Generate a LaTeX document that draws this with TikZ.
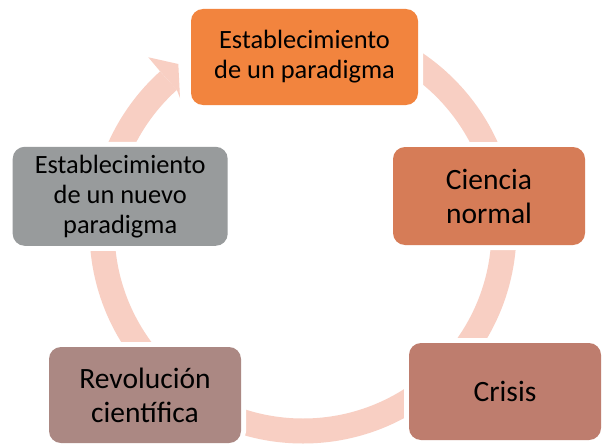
\documentclass[tikz,border=0pt]{standalone}
\usepackage{fontspec}
\setmainfont{Carlito}
\usetikzlibrary{calc}
\definecolor{ringc}{HTML}{F8CFC3}
\definecolor{cTop}{HTML}{F2843E}
\definecolor{cCien}{HTML}{D67C57}
\definecolor{cCris}{HTML}{BE7D6E}
\definecolor{cRev}{HTML}{AB8883}
\definecolor{cNue}{HTML}{989B9C}
\begin{document}
\begin{tikzpicture}[x=1pt,y=-1pt,
  cyclebox/.style={rounded corners=12pt, inner sep=0pt, align=center, text=black,
    preaction={draw=white, line width=10pt}},
  smalltxt/.style={font=\fontsize{26.4}{30}\selectfont},
  bigtxt/.style={font=\fontsize{29.5}{34}\selectfont},
  ringline/.style={draw=ringc, line width=25pt}]
\useasboundingbox[fill=white] (0,0) rectangle (602,444);
\coordinate (c) at (303,230);
% cycle ring (arrows)
\draw[ringline] ($(c)+(270:201)$) arc[start angle=270, end angle=588, radius=201];
\coordinate (hOut) at ($(c)+(228:213.5)$);
\coordinate (hIn) at ($(c)+(228:188.5)$);
\coordinate (hBarbOut) at (148.3,57.3);
\coordinate (hTipTop) at (178.3,64);
\coordinate (hTipBot) at (180,98);
\fill[ringc] (hOut) -- (hBarbOut) -- (hTipTop) -- (hTipBot) -- (hIn) -- cycle;
% boxes
\node[cyclebox, fill=cTop, minimum width=227pt, minimum height=96pt, smalltxt] (est) at (304.5,57) {Establecimiento\\de un paradigma};
\node[cyclebox, fill=cCien, minimum width=192pt, minimum height=98pt, bigtxt] (cien) at (489,196) {Ciencia\\normal};
\node[cyclebox, fill=cCris, minimum width=192pt, minimum height=97pt, bigtxt] (cris) at (505,391.5) {Crisis};
\node[cyclebox, fill=cRev, minimum width=192pt, minimum height=96pt, bigtxt] (rev) at (145,395) {Revolución\\científica};
\node[cyclebox, fill=cNue, minimum width=215pt, minimum height=99pt, smalltxt] (nue) at (120.2,196.3) {Establecimiento\\de un nuevo\\paradigma};
\end{tikzpicture}
\end{document}
